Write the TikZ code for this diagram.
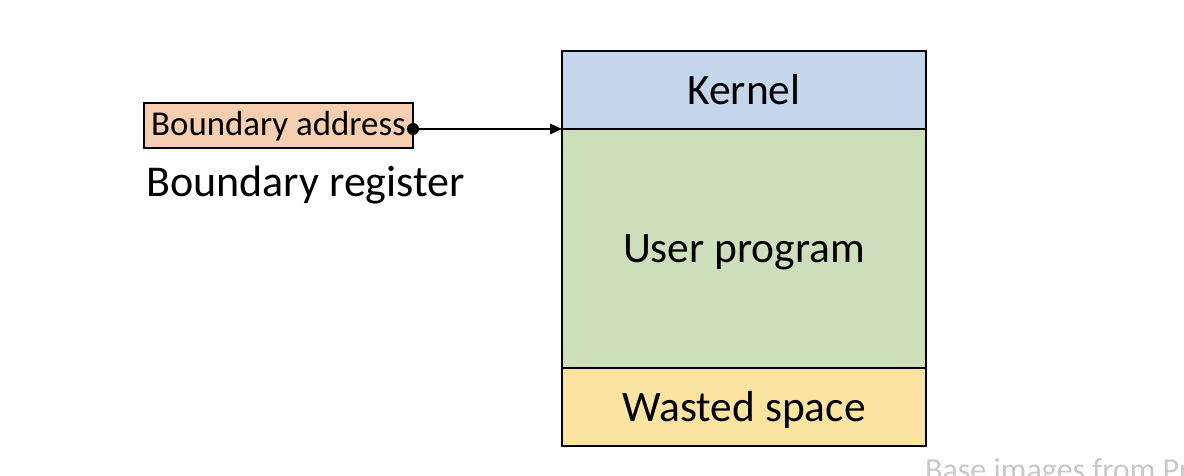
\documentclass[tikz,border=0pt]{standalone}
\usepackage{fontspec}
\setmainfont{Carlito}
\usetikzlibrary{arrows.meta}
\usetikzlibrary{positioning}

\definecolor{kernelblue}{RGB}{196,214,236}
\definecolor{usergreen}{RGB}{204,223,186}
\definecolor{wasteyellow}{RGB}{250,228,160}
\definecolor{regpeach}{RGB}{246,206,176}
\definecolor{notegrey}{RGB}{200,200,200}

\begin{document}
\begin{tikzpicture}[
        region/.style={rectangle, draw=black, line width=1pt, inner sep=0pt, outer sep=0pt,
            minimum width=9.1cm, text height=0.72cm, text depth=0cm,
            font=\fontsize{30.9}{36}\selectfont},
        regbox/.style={rectangle, draw=black, line width=0.9pt, fill=regpeach, inner sep=0pt, outer sep=0pt,
            minimum width=6.725cm, minimum height=1.125cm, text height=0.56cm, text depth=0.04cm,
            font=\fontsize{24.8}{30}\selectfont},
    ]

    \def \kernelh {1.95};
    \def \userh {5.975};
    \def \wasteh {1.95};

    \clip (0,0) rectangle (29.6,-11.9);
    \useasboundingbox (0,0) rectangle (29.6,-11.9);

    % Memory layout
    \node[region, fill=kernelblue, minimum height=\kernelh cm, anchor=north west] (kernel) at (14.05,-1.275) {Kernel};
    \node[region, fill=usergreen, minimum height=\userh cm, below=0pt of kernel] (user) {User program};
    \node[region, fill=wasteyellow, minimum height=\wasteh cm, below=0pt of user] (wasted) {Wasted space};

    % Boundary register
    \node[regbox, anchor=north west] (addr) at (3.6,-2.575) {Boundary address};
    \node[anchor=base west, inner sep=0pt, font=\fontsize{31.3}{36}\selectfont] (reglabel) at (3.65,-4.925) {Boundary register};

    \coordinate (tap) at (addr.east |- kernel.south west);
    \draw[line width=1.3pt, -{Triangle[length=0.3cm, width=0.26cm]}] (tap) -- (kernel.south west);
    \fill (tap) circle (0.15cm);

    \node[anchor=base west, inner sep=0pt, text=notegrey, font=\fontsize{22.8}{28}\selectfont] (note) at (23.12,-12.02) {Base images from Pr};
\end{tikzpicture}
\end{document}
